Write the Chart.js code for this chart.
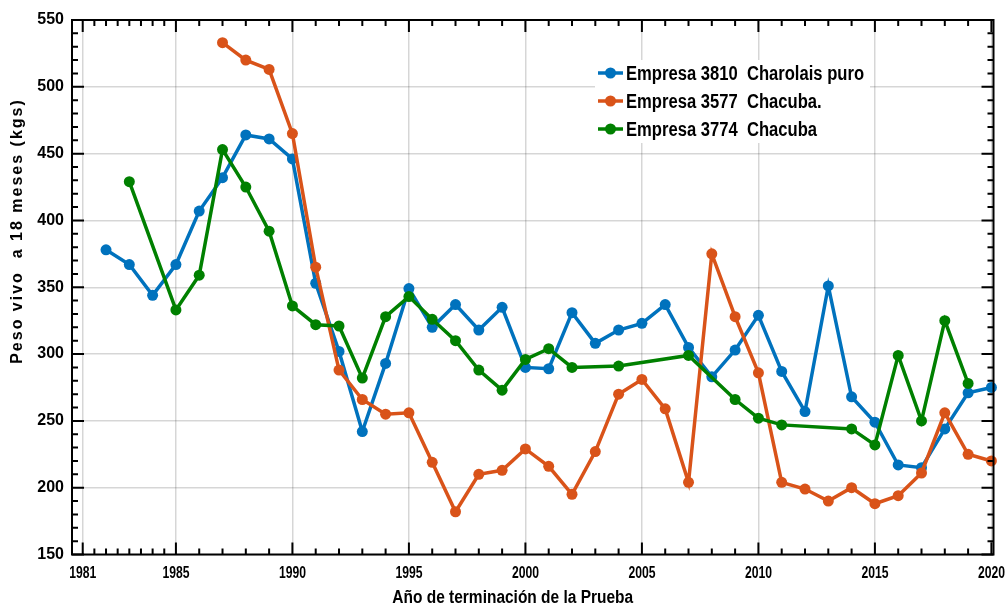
<!DOCTYPE html>
<html>
<head>
<meta charset="utf-8">
<title>Peso vivo a 18 meses</title>
<script src="https://cdn.jsdelivr.net/npm/chart.js@4.4.3/dist/chart.umd.min.js"></script>
<style>
  html, body { margin: 0; padding: 0; background: #fff; }
  #wrap { width: 1007px; height: 607px; }
</style>
</head>
<body>
<div id="wrap"><canvas id="chart" width="1007" height="607"></canvas></div>
<script>
// Year of the test end (x) and live weight at 18 months (kgs) per company
const years = [1982, 1983, 1984, 1985, 1986, 1987, 1988, 1989, 1990,
  1991, 1992, 1993, 1994, 1995, 1996, 1997, 1998, 1999, 2000,
  2001, 2002, 2003, 2004, 2005, 2006, 2007, 2008, 2009, 2010,
  2011, 2012, 2013, 2014, 2015, 2016, 2017, 2018, 2019, 2020];

const charolais3810 = [378, 367, 344, 367, 407, 432, 464, 461, 446,
  353, 302, 242, 293, 349, 320, 337, 318, 335, 290,
  289, 331, 308, 318, 323, 337, 305, 283, 303, 329,
  287, 257, 351, 268, 249, 217, 215, 244, 271, 275];

const chacuba3577 = [null, null, null, null, null, 533, 520, 513, 465,
  365, 288, 266, 255, 256, 219, 182, 210, 213, 229,
  216, 195, 227, 270, 281, 259, 204, 375, 328, 286,
  204, 199, 190, 200, 188, 194, 211, 256, 225, 220];

const chacuba3774 = [null, 429, null, 333, 359, 453, 425, 392, 336,
  322, 321, 282, 328, 343, 326, 310, 288, 273, 296,
  304, 290, null, 291, null, null, 299, null, 266, 252,
  247, null, null, 244, 232, 299, 250, 325, 278, null];

const seriesLabels = ['Empresa 3810  Charolais puro', 'Empresa 3577  Chacuba.', 'Empresa 3774  Chacuba'];
const seriesColors = ['#0072BD', '#D95319', '#008000'];

const xTickYears = [1981, 1985, 1990, 1995, 2000, 2005, 2010, 2015, 2020];
const yTickValues = [150, 200, 250, 300, 350, 400, 450, 500, 550];

const xTitle = 'Año de terminación de la Prueba';
const yTitle = 'Peso vivo  a 18 meses (kgs)';

const SANS = '"Liberation Sans", Arial, sans-serif';

// minor ticks: half years before 1985, whole years after; every 10 kg on y
const xMinor = [];
for (let v = 1981.5; v < 1985; v += 0.5) xMinor.push(v);
for (let v = 1986; v < 2020; v++) if (!xTickYears.includes(v)) xMinor.push(v);
const yMinor = [];
for (let v = 160; v < 550; v += 10) if (!yTickValues.includes(v)) yMinor.push(v);

const toPoints = vals => years.map((yr, i) => ({ x: yr, y: vals[i] }));

function makeSet(i, vals, order) {
  return {
    label: seriesLabels[i],
    data: toPoints(vals),
    borderColor: seriesColors[i],
    backgroundColor: seriesColors[i],
    borderWidth: 3.5,
    pointRadius: 5.5,
    pointHoverRadius: 5.5,
    pointBorderWidth: 0,
    spanGaps: true,
    tension: 0,
    clip: false,
    order: order
  };
}

// condensed text: no narrow font installed, so squeeze horizontally
function squeezedText(ctx, text, x, y, size, sx, align) {
  ctx.save();
  ctx.translate(x, y);
  ctx.scale(sx, 1);
  ctx.font = 'bold ' + size + 'px ' + SANS;
  ctx.fillStyle = '#000';
  ctx.textAlign = align;
  ctx.textBaseline = 'middle';
  ctx.fillText(text, 0, 0);
  ctx.restore();
}

// box frame with inward ticks on all four sides, like the original figure
const framePlugin = {
  id: 'frame',
  afterDatasetsDraw(chart) {
    const { ctx, chartArea: a, scales: { x, y } } = chart;
    ctx.save();
    ctx.strokeStyle = '#000';
    ctx.lineWidth = 2;
    ctx.beginPath();
    const vTick = (v, len) => {
      const px = x.getPixelForValue(v);
      ctx.moveTo(px, a.bottom); ctx.lineTo(px, a.bottom - len);
      ctx.moveTo(px, a.top); ctx.lineTo(px, a.top + len);
    };
    const hTick = (v, len) => {
      const py = y.getPixelForValue(v);
      ctx.moveTo(a.left, py); ctx.lineTo(a.left + len, py);
      ctx.moveTo(a.right, py); ctx.lineTo(a.right - len, py);
    };
    xTickYears.forEach(v => vTick(v, 12));
    xMinor.forEach(v => vTick(v, 6));
    yTickValues.forEach(v => hTick(v, 12));
    yMinor.forEach(v => hTick(v, 6));
    ctx.stroke();
    ctx.strokeRect(a.left, a.top, a.right - a.left, a.bottom - a.top);
    ctx.restore();

    // x tick labels and x title, condensed
    xTickYears.forEach(v => squeezedText(ctx, String(v), x.getPixelForValue(v), a.bottom + 19, 16, 0.76, 'center'));
    squeezedText(ctx, xTitle, (a.left + a.right) / 2 - 20, 598, 18, 0.86, 'center');
  }
};

// legend inside the plot and the rotated y title
const legendPlugin = {
  id: 'insideLegend',
  afterDraw(chart) {
    const ctx = chart.ctx;
    ctx.save();
    ctx.fillStyle = '#fff';
    ctx.fillRect(595, 60, 275, 83);
    chart.data.datasets.forEach((ds, i) => {
      const cy = 73 + i * 28;
      ctx.strokeStyle = ds.borderColor;
      ctx.lineWidth = 3.5;
      ctx.beginPath();
      ctx.moveTo(598, cy); ctx.lineTo(623, cy);
      ctx.stroke();
      ctx.fillStyle = ds.borderColor;
      ctx.beginPath();
      ctx.arc(610.5, cy, 5.5, 0, Math.PI * 2);
      ctx.fill();
      squeezedText(ctx, ds.label, 626, cy + 1, 20, 0.83, 'left');
    });

    ctx.translate(18, 231);
    ctx.rotate(-Math.PI / 2);
    ctx.font = 'bold 16px ' + SANS;
    ctx.letterSpacing = '2px';
    ctx.textAlign = 'center';
    ctx.textBaseline = 'middle';
    ctx.fillStyle = '#000';
    ctx.fillText(yTitle, 0, 0);
    ctx.restore();
  }
};

const gridStyle = { color: 'rgba(0,0,0,0.16)', lineWidth: 1.5, drawTicks: false };

new Chart(document.getElementById('chart'), {
  type: 'line',
  data: {
    datasets: [
      makeSet(0, charolais3810, 3),
      makeSet(1, chacuba3577, 2),
      makeSet(2, chacuba3774, 1)
    ]
  },
  options: {
    responsive: false,
    animation: false,
    events: [],
    layout: { padding: { left: 0, right: 13.5, top: 20, bottom: 0 } },
    plugins: { legend: { display: false }, tooltip: { enabled: false } },
    scales: {
      x: {
        type: 'linear',
        min: 1980.54,
        max: 2020.09,
        afterBuildTicks: s => { s.ticks = xTickYears.map(v => ({ value: v })); },
        afterFit: s => { s.height = 52.5; s.paddingLeft = 0; s.paddingRight = 0; },
        grid: gridStyle,
        border: { display: false },
        ticks: { display: false },
        title: { display: false }
      },
      y: {
        min: 150,
        max: 550,
        afterBuildTicks: s => { s.ticks = yTickValues.map(v => ({ value: v })); },
        afterFit: s => { s.width = 72; s.paddingTop = 0; s.paddingBottom = 0; },
        grid: gridStyle,
        border: { display: false },
        ticks: {
          padding: 8,
          color: '#000',
          font: { family: SANS, weight: 'bold', size: 16 }
        }
      }
    }
  },
  plugins: [framePlugin, legendPlugin]
});
</script>
</body>
</html>
